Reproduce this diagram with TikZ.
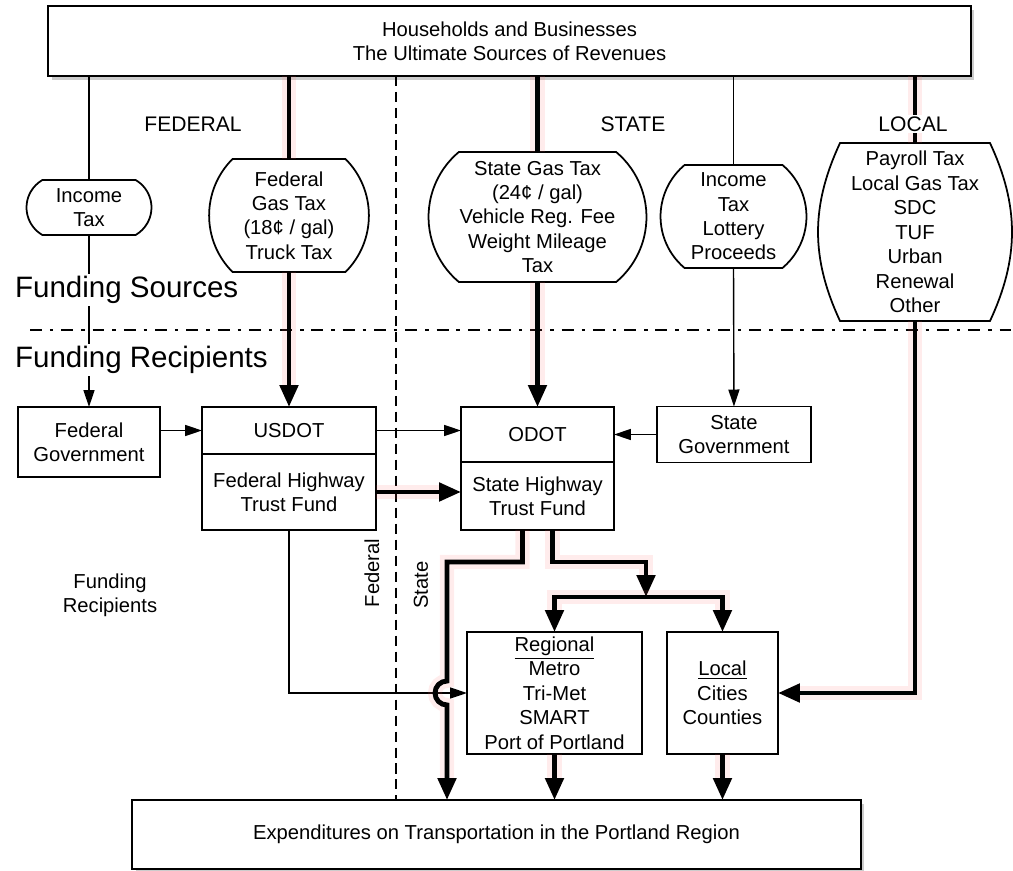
\documentclass[tikz,border=0pt]{standalone}
\usepackage{fontspec}
\setmainfont{Liberation Sans}
\usetikzlibrary{arrows.meta,calc,positioning,shapes.misc,shadows,backgrounds}

\begin{document}
\begin{tikzpicture}[x=0.02cm,y=-0.02cm,
    font=\fontsize{11.5}{13.9}\selectfont,
    flow/.style={draw,line width=1pt,fill=white,align=center,inner sep=2pt,outer sep=0pt},
    srcpill/.style={rounded rectangle,draw,line width=1pt,fill=white,align=center,inner sep=2pt,outer sep=0pt},
    banner/.style={flow,drop shadow={opacity=0.4,shadow xshift=2pt,shadow yshift=-2pt}},
    feed/.style={line width=0.8pt},
    arrow/.style={feed,-{Triangle[length=3.4mm,width=2.2mm]}},
    heavyfeed/.style={line width=2.8pt,preaction={draw=red!60,line width=8pt,opacity=0.12}},
    heavy/.style={heavyfeed,-{Triangle[length=4.4mm,width=3.6mm]}},
    sectline/.style={line width=0.8pt,dash pattern=on 6.8pt off 4.5pt on 2pt off 4.5pt},
    sideline/.style={line width=0.8pt,dash pattern=on 5.7pt off 3.4pt},
    tier/.style={font=\fontsize{12}{14}\selectfont,fill=white,inner sep=1pt},
    band/.style={font=\fontsize{16.8}{20}\selectfont,anchor=west,fill=white,inner sep=1pt}
  ]
  \useasboundingbox (0,0) rectangle (1013,871);

  % sources
  \node[banner,minimum width=18.46cm,minimum height=1.4cm] (house) at (509.5,41) {Households and Businesses\\The Ultimate Sources of Revenues};
  \node[srcpill,rounded rectangle arc length=120,minimum width=2.64cm,minimum height=1.1cm] (inctax) at (89,207.5) {Income\\Tax};
  \node[srcpill,rounded rectangle arc length=90,minimum width=3.24cm,minimum height=2.26cm] (fedgas) at (289,215.5) {Federal\\Gas Tax\\(18¢ / gal)\\Truck Tax};
  \node[srcpill,rounded rectangle arc length=100,minimum width=4.5cm,minimum height=2.6cm] (stategas) at (537.5,217) {State Gas Tax\\(24¢ / gal)\\Vehicle Reg. Fee\\Weight Mileage\\Tax};
  \node[srcpill,rounded rectangle arc length=100,minimum width=3.06cm,minimum height=2.06cm] (statetax) at (733.5,216.5) {Income\\Tax\\Lottery\\Proceeds};
  \node[align=center,inner sep=0pt,outer sep=0pt,minimum width=3cm,minimum height=3.56cm] (localtax) at (915,232) {Payroll Tax\\Local Gas Tax\\SDC\\TUF\\Urban\\Renewal\\Other};
  \begin{scope}[on background layer]
    \draw[line width=1pt,fill=white] (localtax.north west) -- (localtax.north east)
      to[bend left=25] (localtax.south east) -- (localtax.south west)
      to[bend left=25] (localtax.north west) -- cycle;
  \end{scope}

  % recipients
  \node[flow,minimum width=2.84cm,minimum height=1.4cm] (fedgov) at (89,442) {Federal\\Government};
  \node[flow,minimum width=3.48cm,minimum height=0.94cm] (usdot) at (289,430.5) {USDOT};
  \node[flow,minimum width=3.48cm,minimum height=1.52cm,below=0pt of usdot] (fhtf) {Federal Highway\\Trust Fund};
  \node[flow,minimum width=3.06cm,minimum height=1.1cm] (odot) at (537.5,434.5) {ODOT};
  \node[flow,minimum width=3.06cm,minimum height=1.36cm,below=0pt of odot] (shtf) {State Highway\\Trust Fund};
  \node[flow,minimum width=3.08cm,minimum height=1.12cm,right=0.86cm of odot] (stategov) {State\\Government};
  \node[flow,minimum width=3.5cm,minimum height=2.44cm] (regional) at (554.5,693) {\underline{Regional}\\Metro\\Tri-Met\\SMART\\Port of Portland};
  \node[flow,minimum width=2.22cm,minimum height=2.44cm,right=0.5cm of regional] (local) {\underline{Local}\\Cities\\Counties};
  \node[banner,minimum width=14.58cm,minimum height=1.38cm] (expend) at (496.5,834.5) {Expenditures on Transportation in the Portland Region};

  \coordinate (fedline) at (396,0);
  \coordinate (stleft) at (447,562);
  \coordinate (split) at (646,597);

  % dividers
  \draw[sideline] (fedline |- house.south) -- (fedline |- expend.north);
  \draw[sectline] (30,330) -- (1013,330);

  % revenue flows
  \draw[feed] (inctax.north |- house.south) -- (inctax.north);
  \draw[arrow] (inctax.south) -- (fedgov.north);
  \draw[heavyfeed] (fedgas.north |- house.south) -- (fedgas.north);
  \draw[heavy] (fedgas.south) -- (usdot.north);
  \draw[heavyfeed] (stategas.north |- house.south) -- (stategas.north);
  \draw[heavy] (stategas.south) -- (odot.north);
  \draw[feed] (statetax.north |- house.south) -- (statetax.north);
  \draw[arrow] (statetax.south) -- (stategov.north);
  \draw[heavyfeed] (localtax.north |- house.south) -- (localtax.north);
  \draw[heavy] (localtax.south) |- (local.east);

  \draw[arrow] (fedgov.east |- usdot) -- (usdot.west);
  \draw[arrow] (usdot.east) -- (usdot.east -| odot.west);
  \draw[arrow] (stategov.west) -- (stategov.west -| odot.east);
  \draw[heavy] (fhtf.east) -- (fhtf.east -| shtf.west);

  % spending
  \draw[arrow] (fhtf.south) |- (regional.west);
  \draw[heavy] ($(shtf.south)+(-15,0)$) |- (stleft) -- ($(stleft |- regional.west)+(0,-12)$)
    arc[start angle=270,end angle=90,radius=12] -- (stleft |- expend.north);
  \draw[heavy] ($(shtf.south)+(15,0)$) |- ($(split)+(0,-35)$) -- (split);
  \draw[heavy] (split) -| (regional.north);
  \draw[heavy] (split) -| (local.north);
  \draw[heavy] (regional.south) -- (regional.south |- expend.north);
  \draw[heavy] (local.south) -- (local.south |- expend.north);

  % labels
  \node[tier] (fedtag) at (193,124) {FEDERAL};
  \node[tier] (statetag) at (633,124) {STATE};
  \node[tier] (localtag) at (913,124) {LOCAL};
  \node[band] (srclabel) at (13,290) {Funding Sources};
  \node[band] (reclabel) at (13,360) {Funding Recipients};
  \node[align=center] (recnote) at (110,595) {Funding\\Recipients};
  \node[rotate=90] (fedside) at (372,573) {Federal};
  \node[rotate=90] (stateside) at (421,585) {State};
\end{tikzpicture}
\end{document}
